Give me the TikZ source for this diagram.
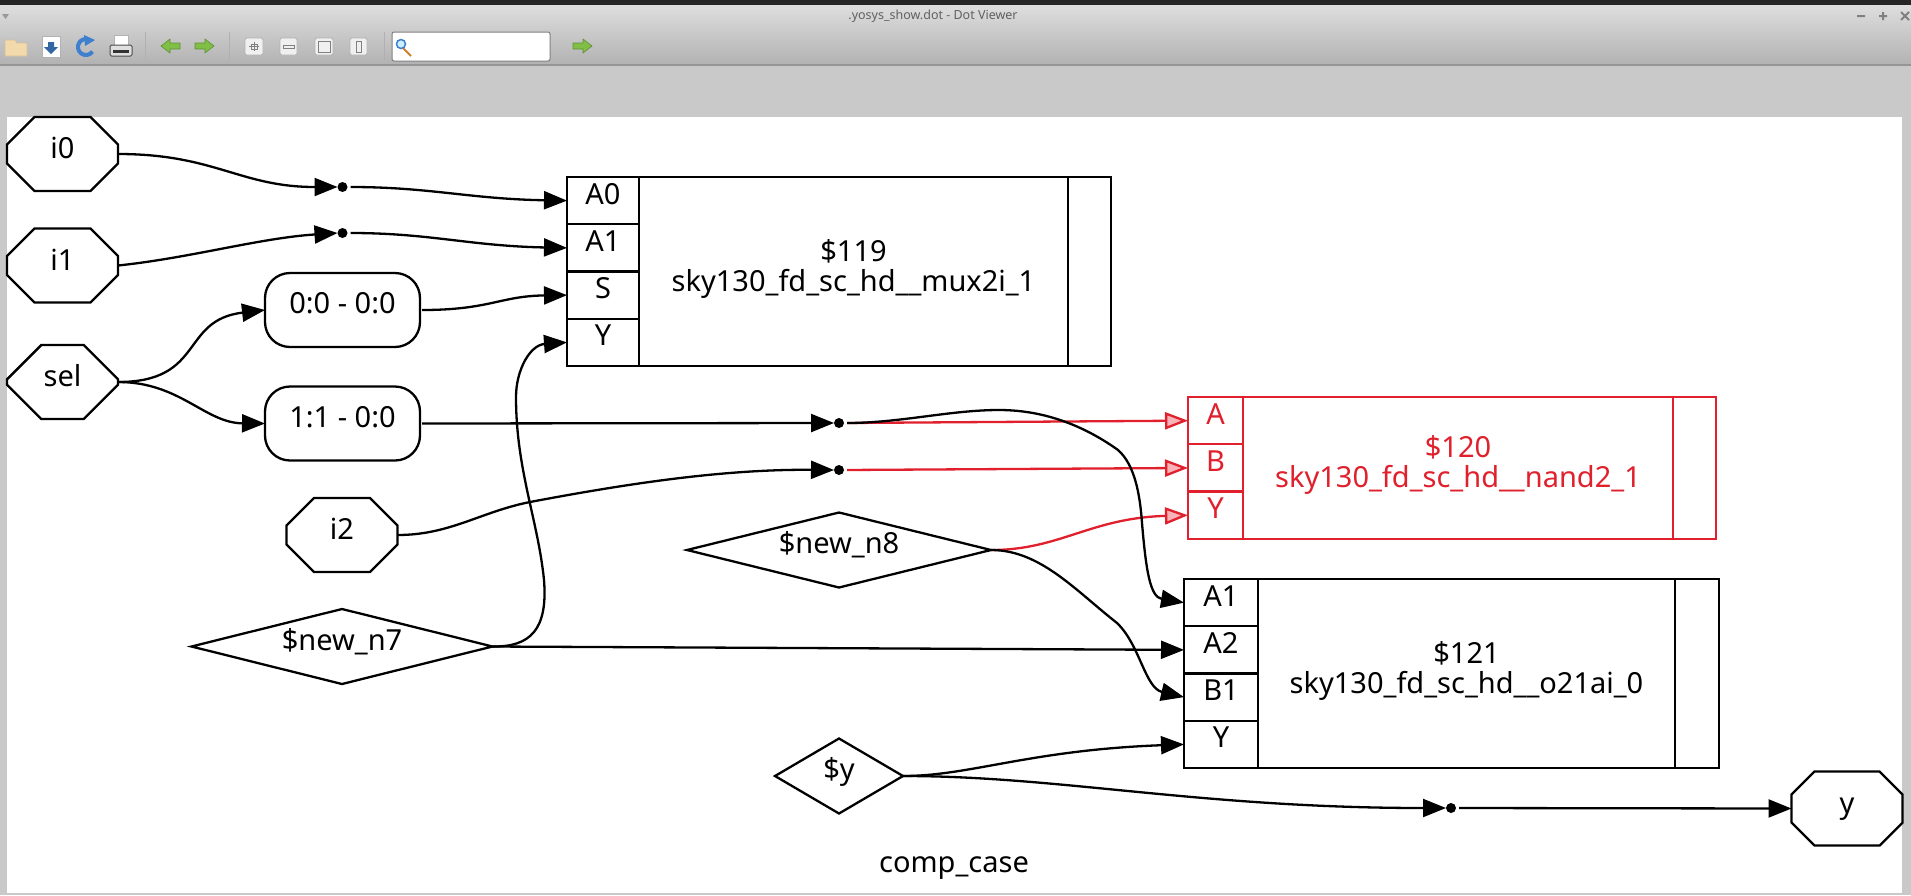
\documentclass[tikz,border=0pt]{standalone}
\usepackage{fontspec}
\setmainfont{Noto Sans}
\usetikzlibrary{arrows.meta,shapes.geometric,shapes.misc}
\definecolor{netred}{RGB}{224,32,44}
\definecolor{tipred}{RGB}{248,178,184}
\definecolor{barline}{RGB}{150,150,150}
\definecolor{leafgreen}{RGB}{128,190,70}
\definecolor{iconblue}{RGB}{62,128,205}
\definecolor{foldertan}{RGB}{242,218,172}
\tikzset{
	every node/.style={font=\fontsize{29}{30}\selectfont,inner sep=0pt,outer sep=0pt},
	raised/.style={text height=18pt,text depth=11pt},
	octa/.style={draw,line width=2.3pt,text height=20pt,text depth=11pt,chamfered rectangle,chamfered rectangle xsep=32pt,chamfered rectangle ysep=21pt,minimum width=111pt,minimum height=74pt},
	rnd/.style={draw,line width=2.3pt,raised,rectangle,rounded corners=25pt,minimum width=155pt,minimum height=74pt},
	dmd/.style={draw,line width=2.3pt,raised,diamond,aspect=4},
	dot/.style={circle,fill,minimum size=10pt},
	cell/.style 2 args={draw,line width=2.3pt,raised,anchor=north west,minimum width=#1,minimum height=#2},
	body/.style 2 args={draw,line width=2.3pt,anchor=north west,minimum width=#1,minimum height=#2,align=center,text height=84pt,text depth=45pt},
	wire/.style={line width=2.3pt,-{Triangle[length=23pt,width=18pt]}},
	redwire/.style={line width=2.3pt,netred,-{Triangle[length=23pt,width=17pt,fill=tipred]}},
	btn/.style={draw=gray!60,fill=gray!12,rounded corners=1.5pt,line width=.8pt},
	sepbar/.style={draw=gray!62,line width=1pt},
	leaf/.style={draw=leafgreen!75!black,fill=leafgreen,line width=.6pt,line join=round}
}
\begin{document}
\begin{tikzpicture}[x=1pt,y=-1pt]
	\useasboundingbox (0,0) rectangle (1911,895);
	\fill[gray!42] (0,0) rectangle (1911,895);
	\shade[top color=gray!26,bottom color=gray!60] (0,5) rectangle (1911,64);
	\fill[black!85] (0,0) rectangle (1911,5);
	\draw[barline,line width=1.2pt] (0,65)--(1911,65);
	\fill[white] (7,117) rectangle (1902,893);
	\node[font=\fontsize{12.5}{14}\bfseries\selectfont,text=black!62] (title) at (933,16) {.yosys\_show.dot - Dot Viewer};
	\draw[gray,line width=2pt] (1857,16)--(1865,16) (1879,16)--(1887,16) (1883,12)--(1883,20) (1901,12)--(1909,20) (1909,12)--(1901,20);
	\fill[gray!80] (2,14)--(9,14)--(5.5,19)--cycle;
	\draw[fill=foldertan,draw=foldertan!70!gray,line width=.6pt] (5,40)--(15,40)--(17,43)--(27,43)--(27,56)--(5,56)--cycle;
	\draw[fill=white,draw=gray!60,line width=.6pt] (42,36) rectangle (60,57);
	\fill[iconblue!80!black] (48,42)--(54,42)--(54,47)--(58,47)--(51,54)--(44,47)--(48,47)--cycle;
	\draw[iconblue,line width=4pt] (92.5,51.6) arc[start angle=-35,end angle=-290,radius=8pt];
	\fill[iconblue] (84,35)--(95,40)--(85,46)--cycle;
	\draw[fill=white,draw=gray!60,line width=.6pt] (114,35) rectangle (128,46);
	\draw[fill=gray!25,draw=black!70,line width=1pt,rounded corners=1.5pt] (110,45) rectangle (132,56);
	\fill[black!80] (113,50) rectangle (129,53);
	\draw[sepbar] (145,32)--(145,60) (229,32)--(229,60) (384,32)--(384,60);
	\draw[leaf] (161,46)--(170,39)--(170,43)--(180,43)--(180,49)--(170,49)--(170,53)--cycle;
	\draw[leaf] (214,46)--(205,39)--(205,43)--(195,43)--(195,49)--(205,49)--(205,53)--cycle;
	\draw[btn] (245,38) rectangle (263,55);
	\draw[btn] (280,38) rectangle (297,55);
	\draw[btn] (315,38) rectangle (333,55);
	\draw[btn] (350,38) rectangle (367,55);
	\draw[gray,line width=.8pt] (251,44) rectangle (257,49) (254,42)--(254,51) (249,46.5)--(259,46.5);
	\draw[gray,line width=.8pt] (283,45) rectangle (294,48);
	\draw[gray,line width=.8pt] (318,41) rectangle (330,52);
	\draw[gray,line width=.8pt] (356,41) rectangle (361,52);
	\draw[fill=white,draw=gray,line width=1pt,rounded corners=2pt] (392,32) rectangle (550,61);
	\draw[brown!70!orange,line width=2pt] (402,47)--(411,56);
	\draw[fill=cyan!20,draw=iconblue,line width=1.5pt] (401,44) circle (4.5pt);
	\draw[leaf] (592,46)--(583,39)--(583,43)--(573,43)--(573,49)--(583,49)--(583,53)--cycle;

	\node[octa] (i0) at (62.5,154) {i0};
	\node[octa] (i1) at (62.5,265.5) {i1};
	\node[octa] (sel) at (62.5,382) {sel};
	\node[octa] (i2) at (342,535) {i2};
	\node[octa] (yout) at (1847,808.5) {y};
	\node[rnd] (slice0) at (342.5,310) {0:0 - 0:0};
	\node[rnd] (slice1) at (342.5,423.5) {1:1 - 0:0};
	\node[dmd,minimum width=301pt,minimum height=75pt] (n7) at (342,646.5) {\$new\_n7};
	\node[dmd,minimum width=304pt,minimum height=75pt] (n8) at (839,550) {\$new\_n8};
	\node[dmd,minimum width=128pt,minimum height=75pt,aspect=1.7] (ny) at (839,776) {\$y};
	\node[dot] (j0) at (342.5,187) {};
	\node[dot] (j1) at (342.5,233) {};
	\node[dot] (j2) at (839,423) {};
	\node[dot] (j3) at (839,470) {};
	\node[dot] (j4) at (1451,808) {};

	\node[cell={72pt}{47.25pt}] (muxA0) at (567,177) {A0};
	\node[cell={72pt}{47.25pt}] (muxA1) at (567,224.25) {A1};
	\node[cell={72pt}{47.25pt}] (muxS) at (567,271.5) {S};
	\node[cell={72pt}{47.25pt}] (muxY) at (567,318.75) {Y};
	\node[body={429pt}{189pt}] (muxbody) at (639,177) {\$119\\sky130\_fd\_sc\_hd\_\_mux2i\_1};
	\node[body={43pt}{189pt}] (muxend) at (1068,177) {};

	\begin{scope}[netred]
	\node[cell={55pt}{47.3pt},text=netred] (nandA) at (1188,397) {A};
	\node[cell={55pt}{47.3pt},text=netred] (nandB) at (1188,444.3) {B};
	\node[cell={55pt}{47.3pt},text=netred] (nandY) at (1188,491.6) {Y};
	\node[body={430pt}{142pt},text=netred] (nandbody) at (1243,397) {\$120\\sky130\_fd\_sc\_hd\_\_nand2\_1};
	\node[body={43pt}{142pt}] (nandend) at (1673,397) {};
	\end{scope}

	\node[cell={74pt}{47.25pt}] (oaiA1) at (1184,579) {A1};
	\node[cell={74pt}{47.25pt}] (oaiA2) at (1184,626.25) {A2};
	\node[cell={74pt}{47.25pt}] (oaiB1) at (1184,673.5) {B1};
	\node[cell={74pt}{47.25pt}] (oaiY) at (1184,720.75) {Y};
	\node[body={417pt}{189pt}] (oaibody) at (1258,579) {\$121\\sky130\_fd\_sc\_hd\_\_o21ai\_0};
	\node[body={44pt}{189pt}] (oaiend) at (1675,579) {};

	\node (design) at (954,868) {comp\_case};

	\draw[wire] (i0.east) .. controls (215,154) and (240,187) .. (j0.west);
	\draw[wire,shorten <=3pt] (j0.east) .. controls (430,187) and (470,199) .. (muxA0.west);
	\draw[wire] (i1.east) .. controls (190,258) and (260,238) .. (j1.west);
	\draw[wire,shorten <=3pt] (j1.east) .. controls (430,233) and (470,246) .. (muxA1.west);
	\draw[wire] (sel.east) .. controls (205,382) and (180,320) .. (slice0.west);
	\draw[wire] (sel.east) .. controls (180,382) and (205,423) .. (slice1.west);
	\draw[wire,shorten <=2pt] (slice0.east) .. controls (490,310) and (500,296) .. (muxS.west);
	\draw[wire,shorten <=2pt] (slice1.east) -- (j2.west);
	\draw[wire] (n7.east) .. controls (530,647) and (548,630) .. (544,580) .. controls (538,520) and (516,470) .. (516,397) .. controls (516,370) and (530,345) .. (muxY.west);
	\draw[wire] (i2.east) .. controls (450,535) and (480,512) .. (530,502) .. controls (620,485) and (720,469) .. (j3.west);
	\draw[redwire,shorten <=3pt] (j2.east) -- (nandA.west);
	\draw[redwire,shorten <=3pt] (j3.east) -- (nandB.west);
	\draw[redwire] (n8.east) .. controls (1060,550) and (1090,518) .. (nandY.west);
	\draw[wire,shorten <=3pt] (j2.east) .. controls (900,423) and (950,410) .. (999,410) .. controls (1050,410) and (1090,430) .. (1118,450) .. controls (1135,465) and (1140,495) .. (1142,523) .. controls (1146,570) and (1150,597) .. (oaiA1.west);
	\draw[wire] (n7.east) -- (oaiA2.west);
	\draw[wire] (n8.east) .. controls (1040,550) and (1075,590) .. (1117,623) .. controls (1140,645) and (1145,688) .. (oaiB1.west);
	\draw[wire] (ny.east) .. controls (970,776) and (1030,750) .. (oaiY.west);
	\draw[wire] (ny.east) .. controls (1060,776) and (1200,808) .. (j4.west);
	\draw[wire,shorten <=3pt] (j4.east) -- (yout.west);
\end{tikzpicture}
\end{document}
